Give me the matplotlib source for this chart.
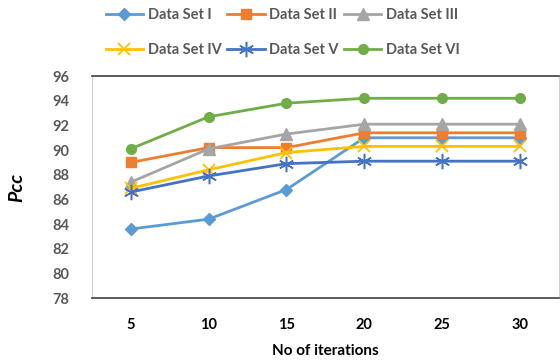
import matplotlib
matplotlib.use("Agg")
import matplotlib.pyplot as plt

iterations = ["5", "10", "15", "20", "25", "30"]
set_i = [83.6, 84.4, 86.8, 91.0, 91.0, 91.0]
set_ii = [89.0, 90.2, 90.2, 91.4, 91.4, 91.4]
set_iii = [87.4, 90.1, 91.3, 92.1, 92.1, 92.1]
set_iv = [86.9, 88.4, 89.8, 90.3, 90.3, 90.3]
set_v = [86.6, 87.9, 88.9, 89.1, 89.1, 89.1]
set_vi = [90.1, 92.7, 93.8, 94.2, 94.2, 94.2]
series_names = ["Data Set I", "Data Set II", "Data Set III",
                "Data Set IV", "Data Set V", "Data Set VI"]
y_ticks = [78, 80, 82, 84, 86, 88, 90, 92, 94, 96]

plt.rcParams['font.family'] = ['Lato', 'DejaVu Sans']

fig = plt.figure(figsize=(5.6, 3.64), dpi=100)
ax = fig.add_axes([0.164, 0.181, 0.834, 0.61])

styles = [
    dict(color="#5B9BD5", marker="D", ms=6),
    dict(color="#ED7D31", marker="s", ms=7),
    dict(color="#A5A5A5", marker="^", ms=8),
    dict(color="#FFC000", marker="x", ms=9, mew=1.3),
    dict(color="#4472C4", marker=(6, 2, 0), ms=11, mew=1.1),
    dict(color="#70AD47", marker="o", ms=7),
]
data = [set_i, set_ii, set_iii, set_iv, set_v, set_vi]
x = list(range(len(iterations)))
handles = []
for name, vals, st in zip(series_names, data, styles):
    h, = ax.plot(x, vals, lw=2.0, label=name, **st)
    handles.append(h)

ax.set_xlim(-0.5, len(iterations) - 0.5)
ax.set_ylim(78, 96)
ax.set_yticks(y_ticks)
ax.set_xticks(x)
ax.set_xticklabels(iterations)
ax.tick_params(axis='both', length=0)
ax.tick_params(axis='y', pad=16, labelsize=10.5, labelcolor="#595959")
ax.tick_params(axis='x', pad=14, labelsize=10.5, labelcolor="#000000")
for lbl in ax.get_yticklabels() + ax.get_xticklabels():
    lbl.set_fontweight('bold')

for side in ['top', 'bottom']:
    ax.spines[side].set_color("#404040")
    ax.spines[side].set_linewidth(1.2)
for side in ['left', 'right']:
    ax.spines[side].set_color("#D0D0D0")
    ax.spines[side].set_linewidth(0.8)

ax.set_xlabel("No of iterations", fontsize=11, fontweight='bold', labelpad=9)
ax.set_ylabel("Pcc", fontsize=14, fontweight='bold', style='italic', labelpad=20)

order = [0, 3, 1, 4, 2, 5]
leg = fig.legend([handles[i] for i in order], [series_names[i] for i in order],
                 ncol=3, loc='upper left', bbox_to_anchor=(0.165, 1.015),
                 frameon=False, fontsize=10.5, handlelength=2.6,
                 columnspacing=0.35, handletextpad=0.3, labelspacing=1.45)
for t in leg.get_texts():
    t.set_color("#595959")
    t.set_fontweight('bold')

fig.savefig("out.png", dpi=100)
